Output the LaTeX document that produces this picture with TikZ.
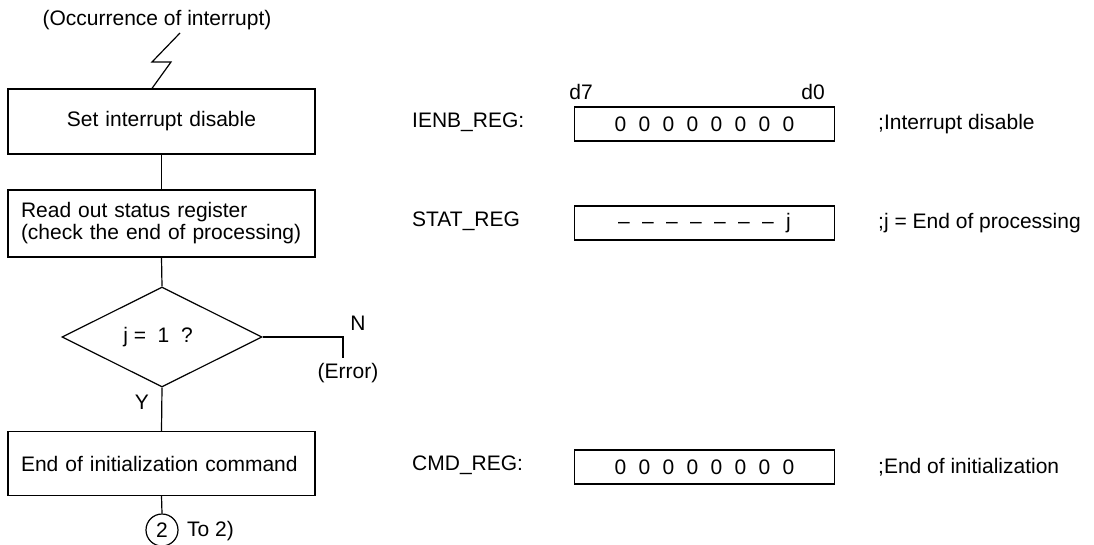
\documentclass[tikz,border=0pt]{standalone}
\usepackage{fontspec}
\setmainfont{Liberation Sans}
\usetikzlibrary{shapes.geometric}
\newcommand{\gp}{\hspace{12.3pt}}
\begin{document}
\begin{tikzpicture}[x=1pt,y=-1pt,
  every node/.style={font=\fontsize{21}{22}\selectfont, inner sep=0pt},
  flow/.style={draw, line width=1.2pt, minimum width=307pt, text width=281pt, inner xsep=13pt},
  reg/.style={draw, line width=1.2pt, minimum width=260pt, minimum height=34pt},
  lbl/.style={anchor=west},
  conn/.style={line width=1.2pt}]
\useasboundingbox (0,0) rectangle (1094,544);
\fill[white] (0,0) rectangle (1094,544);
% flowchart
\node (occ) at (157,20) {(Occurrence of interrupt)};
\node[flow, minimum height=65pt, align=center] (s1) at (161.5,121.5) {Set interrupt disable};
\node[flow, minimum height=67pt, align=left] (s2) at (161.5,223.5) {Read out status register\\(check the end of processing)};
\node[diamond, draw, line width=1.2pt, minimum width=200pt, minimum height=100pt] (dec) at (162,337) {};
\node (dect) at (158,337) {j =\ \ 1\ \ ?};
\node[flow, minimum height=64pt, align=left] (s3) at (161.5,463.5) {End of initialization command};
\node[circle, draw, line width=1.2pt, minimum size=32pt] (c2) at (162,530) {2};
\node[anchor=west] (to2) at (187,531) {To 2)};
\node (ylab) at (142,402) {Y};
\node (nlab) at (358,323) {N};
\node (err) at (348,373) {(Error)};
\coordinate (nend) at (343,358);
\coordinate (zt) at (180,33);
\draw[conn] (zt) -- ++(-28,29) -- ++(19,0) -- ([xshift=-9.5pt]s1.north);
\draw[conn] (s1.south) -- (s2.north);
\draw[conn] (s2.south) -- (dec.north);
\draw[conn] (dec.south) -- (s3.north);
\draw[conn] (s3.south) -- (c2.north);
\draw[conn] (dec.east) -| (nend);
% registers
\node (d7) at (581,92) {d7};
\node (d0) at (813,92) {d0};
\node[reg] (r1) at (704.5,124) {0\gp0\gp0\gp0\gp0\gp0\gp0\gp0};
\node[reg] (r2) at (704.5,223) {--\gp--\gp--\gp--\gp--\gp--\gp--\gp j};
\node[reg] (r3) at (704.5,467) {0\gp0\gp0\gp0\gp0\gp0\gp0\gp0};
\node[lbl] (l1) at (412,122) {IENB\_REG:};
\node[lbl] (l2) at (412,221) {STAT\_REG};
\node[lbl] (l3) at (412,465) {CMD\_REG:};
\node[lbl] (c1) at (878,124) {;Interrupt disable};
\node[lbl] (cc2) at (878,223) {;j = End of processing};
\node[lbl] (c3) at (878,467) {;End of initialization};
\end{tikzpicture}
\end{document}
